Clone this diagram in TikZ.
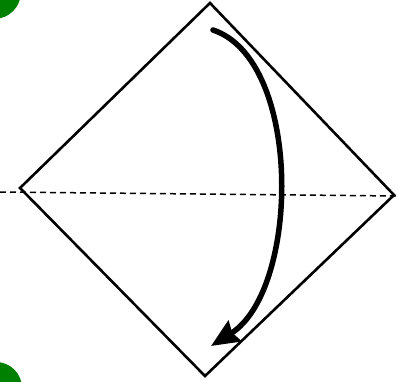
\documentclass[tikz,border=0pt]{standalone}
\usetikzlibrary{arrows.meta}
\begin{document}
\begin{tikzpicture}[x=1pt,y=-1pt,
  edge/.style={line width=2.6pt,line join=miter},
  fold/.style={line width=1.5pt,dash pattern=on 6pt off 4pt},
  turn/.style={line width=5.5pt,line cap=round,-{Stealth[length=28pt,width=24pt,inset=3pt]}},
  corner/.style={fill=green!50!black,draw=none}]
\useasboundingbox (0,0) rectangle (398,381);
\fill[corner] (-6,-8) circle (27);
\fill[corner] (-4,388) circle (26);
\coordinate (T) at (210,3);
\coordinate (L) at (20,188);
\coordinate (B) at (205,376);
\coordinate (R) at (394,195);
\draw[edge] (T) -- (R) -- (B) -- (L) -- cycle;
\coordinate (d1) at (0,192);
\coordinate (d2) at (398,196);
\draw[fold] (d1) -- (d2);
\coordinate (s) at (213,30);
\coordinate (e) at (211,346);
\draw[turn] (s) .. controls (303,60) and (300,290) .. (e);
\end{tikzpicture}
\end{document}
